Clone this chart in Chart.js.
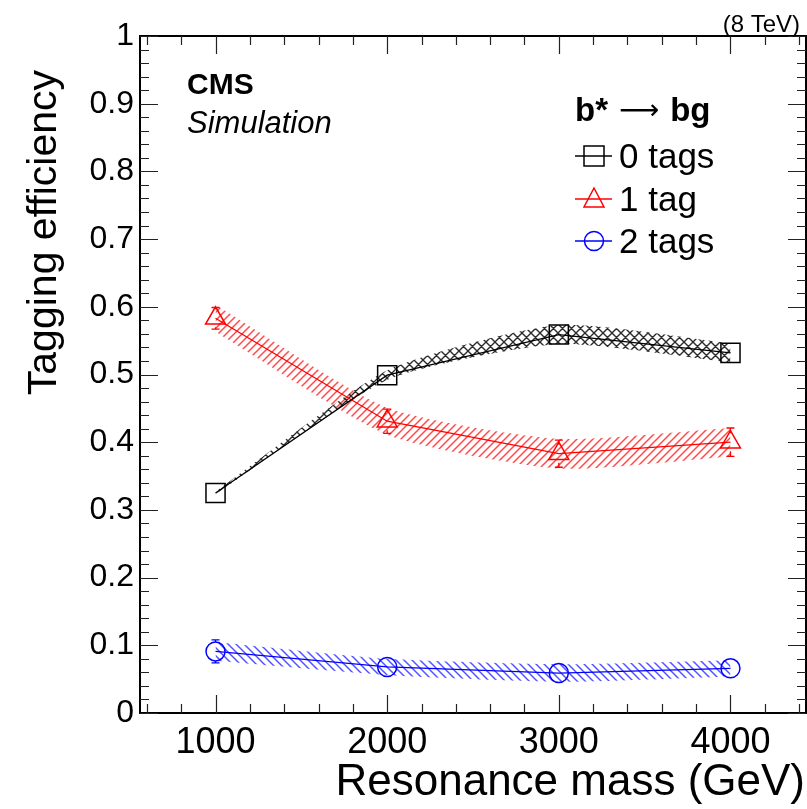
<!DOCTYPE html>
<html><head><meta charset="utf-8">
<script src="https://cdn.jsdelivr.net/npm/chart.js@4.4.1/dist/chart.umd.min.js"></script>
<style>html,body{margin:0;padding:0;background:#fff}#wrap{width:807px;height:809px;position:relative}</style>
</head><body><div id="wrap"><canvas id="c"></canvas></div>
<script>
// ---- data ----
const masses = [1000, 2000, 3000, 4000];
const eff0 = [0.325, 0.499, 0.559, 0.532];
const err0 = [0.004, 0.006, 0.008, 0.010];
const band0 = [0.002, 0.007, 0.014, 0.014];
const eff1 = [0.583, 0.431, 0.383, 0.400];
const err1 = [0.016, 0.018, 0.020, 0.021];
const band1 = [0.020, 0.020, 0.022, 0.021];
const eff2 = [0.091, 0.068, 0.059, 0.066];
const err2 = [0.017, 0.008, 0.008, 0.008];
const band2 = [0.014, 0.012, 0.013, 0.012];
const xTicks = [1000, 2000, 3000, 4000];
const yTicks = [0, 0.1, 0.2, 0.3, 0.4, 0.5, 0.6, 0.7, 0.8, 0.9, 1];
const legendTitleParts = ['b*', '\u27F6', 'bg'];
const legendLabels = ['0 tags', '1 tag', '2 tags'];
const xTitle = 'Resonance mass (GeV)';
const yTitle = 'Tagging efficiency';

const FONT = "'Liberation Sans', Arial, Helvetica, sans-serif";
const COL = ['#000000', '#ff0000', '#0000ff'];

const canvas = document.getElementById('c');
const mainCtx = canvas.getContext('2d');

function hatch(color, dirs, size, lw) {
  const c = document.createElement('canvas');
  c.width = c.height = size;
  const g = c.getContext('2d');
  g.strokeStyle = color; g.lineWidth = lw;
  g.beginPath();
  if (dirs.includes('/')) {
    g.moveTo(-2, size + 2); g.lineTo(size + 2, -2);
    g.moveTo(-2, 2); g.lineTo(2, -2);
    g.moveTo(size - 2, size + 2); g.lineTo(size + 2, size - 2);
  }
  if (dirs.includes('\\')) {
    g.moveTo(-2, -2); g.lineTo(size + 2, size + 2);
    g.moveTo(-2, size - 2); g.lineTo(2, size + 2);
    g.moveTo(size - 2, -2); g.lineTo(size + 2, 2);
  }
  g.stroke();
  return mainCtx.createPattern(c, 'repeat');
}
const pat0 = hatch('rgba(20,20,20,0.9)', '/\\', 9, 1.4);
const pat1 = hatch('rgba(255,40,40,0.85)', '/', 8, 1.5);
const pat2 = hatch('rgba(40,40,255,0.8)', '\\', 8, 1.5);

function pts(arr, off, sign) {
  return masses.map((m, i) => ({ x: m, y: arr[i] + (off ? sign * off[i] : 0) }));
}
function bandSets(eff, band, pat) {
  return [
    { data: pts(eff, band, 1), fill: '+1', backgroundColor: pat, borderWidth: 0, pointRadius: 0, tension: 0.2 },
    { data: pts(eff, band, -1), fill: false, borderWidth: 0, pointRadius: 0, tension: 0.2 }
  ];
}
function lineSet(eff, color, style, r) {
  return { data: pts(eff), borderColor: color, borderWidth: 1.3, pointStyle: style, pointRadius: r,
    pointBorderColor: color, pointBackgroundColor: 'rgba(0,0,0,0)', pointBorderWidth: 1.5, tension: 0, fill: false };
}

const datasets = [
  lineSet(eff0, COL[0], 'rect', 13.5),
  lineSet(eff1, COL[1], 'triangle', 11.5),
  lineSet(eff2, COL[2], 'circle', 9.5),
  ...bandSets(eff0, band0, pat0),
  ...bandSets(eff1, band1, pat1),
  ...bandSets(eff2, band2, pat2)
];
const errs = [err0, err1, err2];
const effs = [eff0, eff1, eff2];
const gaps = [9.5, 9, 9.5];

const decor = {
  id: 'decor',
  afterDatasetsDraw(chart) {
    const ctx = chart.ctx, xs = chart.scales.x, ys = chart.scales.y;
    ctx.save();
    for (let s = 0; s < 3; s++) {
      ctx.strokeStyle = COL[s]; ctx.lineWidth = 1.3;
      masses.forEach((m, i) => {
        const px = xs.getPixelForValue(m);
        const pc = ys.getPixelForValue(effs[s][i]);
        const pt = ys.getPixelForValue(effs[s][i] + errs[s][i]);
        const pb = ys.getPixelForValue(effs[s][i] - errs[s][i]);
        ctx.beginPath();
        if (pc - pt > gaps[s]) { ctx.moveTo(px, pc - gaps[s]); ctx.lineTo(px, pt); ctx.moveTo(px - 4, pt); ctx.lineTo(px + 4, pt); }
        if (pb - pc > gaps[s]) { ctx.moveTo(px, pc + gaps[s]); ctx.lineTo(px, pb); ctx.moveTo(px - 4, pb); ctx.lineTo(px + 4, pb); }
        ctx.stroke();
      });
    }
    ctx.restore();
  },
  afterDraw(chart) {
    const ctx = chart.ctx, xs = chart.scales.x, ys = chart.scales.y, a = chart.chartArea;
    ctx.save();
    // frame
    ctx.strokeStyle = '#000'; ctx.lineWidth = 2;
    ctx.strokeRect(a.left, a.top, a.right - a.left, a.bottom - a.top);
    // ticks
    ctx.lineWidth = 1.2; ctx.strokeStyle = '#222';
    ctx.beginPath();
    for (let v = 600; v <= 4400; v += 200) {
      const px = Math.round(xs.getPixelForValue(v)) + 0.5;
      const L = (v % 1000 === 0) ? 18 : 9;
      ctx.moveTo(px, a.bottom); ctx.lineTo(px, a.bottom - L);
      ctx.moveTo(px, a.top); ctx.lineTo(px, a.top + L);
    }
    for (let k = 0; k <= 50; k++) {
      const v = k * 0.02;
      const py = Math.round(ys.getPixelForValue(v)) + 0.5;
      const L = (k % 5 === 0) ? 18 : 9;
      ctx.moveTo(a.left, py); ctx.lineTo(a.left + L, py);
      ctx.moveTo(a.right, py); ctx.lineTo(a.right - L, py);
    }
    ctx.stroke();
    // texts
    ctx.fillStyle = '#000';
    ctx.textAlign = 'right'; ctx.textBaseline = 'alphabetic';
    ctx.font = '24px ' + FONT;
    ctx.fillText('(8 TeV)', 800, 32);
    ctx.font = '44px ' + FONT;
    ctx.fillText(xTitle, 805, 795);
    ctx.save();
    ctx.translate(56, 70); ctx.rotate(-Math.PI / 2);
    ctx.font = '41px ' + FONT; ctx.textAlign = 'right';
    ctx.fillText(yTitle, 0, 0);
    ctx.restore();
    ctx.textAlign = 'left';
    ctx.font = 'bold 30px ' + FONT;
    ctx.fillText('CMS', 187, 94);
    ctx.font = 'italic 31px ' + FONT;
    ctx.fillText('Simulation', 187, 133);
    // legend title
    let lx = 575;
    ctx.font = 'bold 33px ' + FONT;
    ctx.fillText(legendTitleParts[0], lx, 121);
    lx += ctx.measureText(legendTitleParts[0]).width + 11;
    ctx.font = "28px 'DejaVu Sans', sans-serif";
    ctx.fillText(legendTitleParts[1], lx, 119);
    lx += ctx.measureText(legendTitleParts[1]).width + 11;
    ctx.font = 'bold 33px ' + FONT;
    ctx.fillText(legendTitleParts[2], lx, 121);
    // legend entries
    ctx.font = '35px ' + FONT;
    const base = [168, 211, 253];
    for (let s = 0; s < 3; s++) {
      const cy = base[s] - 12;
      ctx.strokeStyle = COL[s]; ctx.lineWidth = 1.3;
      ctx.beginPath(); ctx.moveTo(575, cy); ctx.lineTo(612, cy); ctx.stroke();
      ctx.lineWidth = 1.5;
      ctx.beginPath();
      if (s === 0) ctx.rect(584, cy - 10, 20, 20);
      else if (s === 1) { ctx.moveTo(594, cy - 11); ctx.lineTo(604, cy + 8); ctx.lineTo(584, cy + 8); ctx.closePath(); }
      else ctx.arc(594, cy, 9.5, 0, Math.PI * 2);
      ctx.stroke();
      ctx.fillStyle = '#000';
      ctx.fillText(legendLabels[s], 619, base[s]);
    }
    ctx.restore();
  }
};

new Chart(canvas, {
  type: 'line',
  data: { datasets },
  options: {
    responsive: true, maintainAspectRatio: false, animation: false, events: [],
    layout: { autoPadding: false, padding: { top: 36, right: 1, left: 0, bottom: 0 } },
    plugins: { legend: { display: false }, tooltip: { enabled: false } },
    scales: {
      x: {
        type: 'linear', min: 560, max: 4440,
        afterBuildTicks: s => { s.ticks = xTicks.map(v => ({ value: v })); },
        afterFit: s => { s.height = 96; },
        grid: { display: false, drawTicks: false }, border: { display: false },
        ticks: { font: { family: FONT, size: 36 }, color: '#000', padding: 8, maxRotation: 0, autoSkip: false,
          callback: v => String(v) }
      },
      y: {
        type: 'linear', min: 0, max: 1,
        afterBuildTicks: s => { s.ticks = yTicks.map(v => ({ value: v })); },
        afterFit: s => { s.width = 140; },
        grid: { display: false, drawTicks: false }, border: { display: false },
        ticks: { font: { family: FONT, size: 32 }, color: '#000', padding: 6, autoSkip: false,
          callback: v => (v === 0 ? '0' : v === 1 ? '1' : v.toFixed(1)) }
      }
    }
  },
  plugins: [decor]
});
</script></body></html>
